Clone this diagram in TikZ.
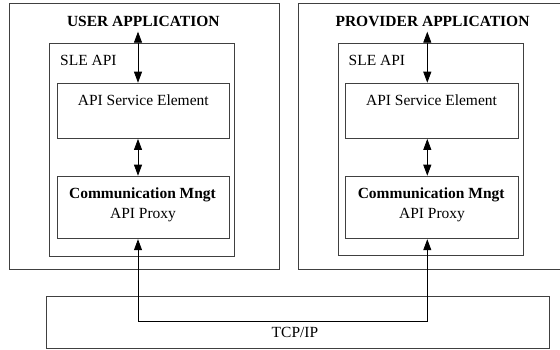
\documentclass[tikz,border=0pt]{standalone}
\usepackage{fontspec}
\setmainfont{Liberation Serif}
\usetikzlibrary{arrows.meta}
\begin{document}
\begin{tikzpicture}[x=1pt,y=-1pt,
  box/.style={draw=black!75,line width=0.9pt,rectangle,inner sep=0pt,anchor=north west},
  lbl/.style={inner sep=0pt,anchor=base},
  conn/.style={draw=black,line width=0.8pt,{Triangle[length=11pt,width=8pt]}-{Triangle[length=11pt,width=8pt]}},
  every node/.append style={font=\fontsize{15.5}{20}\selectfont}]
\useasboundingbox (0,0) rectangle (560,349);

% application frames
\node[box,minimum width=270pt,minimum height=265.7pt] (appL) at (9,3) {};
\node[box,minimum width=268pt,minimum height=265.5pt] (appR) at (297.7,3) {};
\node[lbl,font=\fontsize{15.5}{20}\selectfont\bfseries] (ttlL) at (143.3,26) {USER APPLICATION};
\node[lbl,font=\fontsize{15.5}{20}\selectfont\bfseries] (ttlR) at (432.5,26) {PROVIDER APPLICATION};

% SLE API boxes
\node[box,minimum width=185pt,minimum height=213pt] (apiL) at (49.3,42.7) {};
\node[box,minimum width=185pt,minimum height=212.6pt] (apiR) at (338.3,42.7) {};
\node[lbl,anchor=base west] (sleL) at (60,65.7) {SLE API};
\node[lbl,anchor=base west] (sleR) at (348.5,65.7) {SLE API};

% service element boxes
\node[box,minimum width=172pt,minimum height=55.3pt] (aseL) at (56.7,82.7) {};
\node[box,minimum width=172.4pt,minimum height=55.3pt] (aseR) at (345.3,82.7) {};
\node[lbl] (aseLt) at (143.3,105) {API Service Element};
\node[lbl] (aseRt) at (431.5,105) {API Service Element};

% communication management boxes
\node[box,minimum width=172pt,minimum height=62.6pt] (cmL) at (56.7,175.7) {};
\node[box,minimum width=172.4pt,minimum height=62.6pt] (cmR) at (345.3,175.7) {};
\node[lbl,font=\fontsize{15.5}{20}\selectfont\bfseries] (cmLt) at (142.5,198.3) {Communication Mngt};
\node[lbl] (pxLt) at (143,218.3) {API Proxy};
\node[lbl,font=\fontsize{15.5}{20}\selectfont\bfseries] (cmRt) at (431.2,198.3) {Communication Mngt};
\node[lbl] (pxRt) at (432,218.3) {API Proxy};

% transport box
\node[box,minimum width=503.6pt,minimum height=52.8pt] (tcp) at (45.7,295.5) {};
\node[lbl] (tcpt) at (295,337) {TCP/IP};

% connector routes
\coordinate (topL) at (138,31.7);
\coordinate (topR) at (427.3,31.7);
\coordinate (busL) at (138,321.7);
\coordinate (busR) at (427.3,321.7);

\draw[conn] (topL) -- (topL |- aseL.north);
\draw[conn] (topR) -- (topR |- aseR.north);
\draw[conn] (topL |- aseL.south) -- (topL |- cmL.north);
\draw[conn] (topR |- aseR.south) -- (topR |- cmR.north);
\draw[conn] (busL |- cmL.south) -- (busL) -- (busR) -- (busR |- cmR.south);
\end{tikzpicture}
\end{document}
